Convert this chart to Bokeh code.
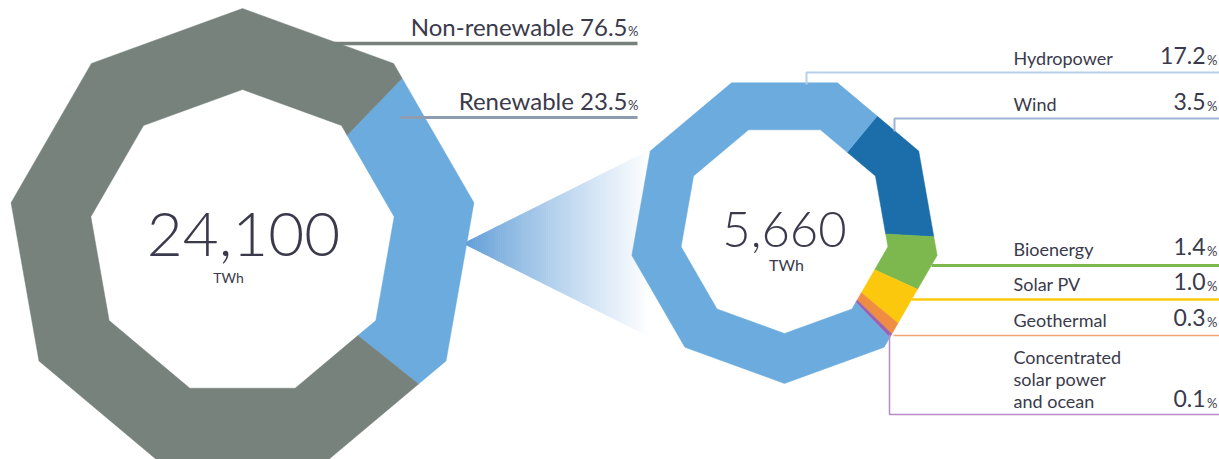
import math
from bokeh.plotting import figure
from bokeh.models import Range1d
from bokeh.core.properties import value
from bokeh.embed import file_html
from bokeh.resources import INLINE

# ---------------- data ----------------
totals = ["24,100", "5,660"]
total_unit = "TWh"

left_labels = ["Non-renewable", "Renewable"]
left_shares = [76.5, 23.5]
left_colors = ["#77827d", "#6babdd"]

right_labels = ["Hydropower", "Wind", "Bioenergy", "Solar PV", "Geothermal",
                "Concentrated\nsolar power\nand ocean"]
right_shares = [17.2, 3.5, 1.4, 1.0, 0.3, 0.1]
right_colors = ["#6babdd", "#1b6ea9", "#7db84f", "#fcc80d", "#ef8d42", "#9c62b0"]
right_line_colors = ["#b5cfec", "#9db5d3", "#7db84f", "#fcc80d", "#f3a574", "#b98ac6"]
right_line_widths = [2, 2, 3, 2.5, 1.5, 1.5]

# ---------------- layout (screen px, y down) ----------------
FONT = "Lato"
LIGHT = "Lato Light, Lato"
TXT = "#3a3a4c"
N_SIDES = 9
BASE_K = 0.38   # baseline correction factor

L_CX, L_CY, L_R, L_r, L_ROT = 242, 243, 235, 154, 90      # vertex at top
R_CX, R_CY, R_R, R_r, R_ROT = 784, 228, 155, 105, -90     # vertex at bottom
L_START = 46.0    # renewable begins here, clockwise
R_START = 50.5    # wind begins here, clockwise

p = figure(width=1219, height=459, x_range=Range1d(0, 1219), y_range=Range1d(459, 0),
           output_backend="svg", toolbar_location=None, min_border=0)
p.axis.visible = False
p.grid.visible = False
p.outline_line_color = None
p.background_fill_color = "white"
p.border_fill_color = "white"


def txt(x, y, s, size, align="left", font=FONT):
    p.text(x=[x], y=[y - BASE_K * size], text=[s], text_font=value(font),
           text_font_size="%dpx" % size, text_align=align, text_baseline="alphabetic",
           text_color=TXT)


def poly_r(phi, R, rot):
    step = 360.0 / N_SIDES
    k = math.floor((phi - rot) / step)
    mid = rot + (k + 0.5) * step
    a = R * math.cos(math.radians(step / 2))
    return a / math.cos(math.radians(phi - mid))


def ring_segment(cx, cy, R, r, rot, a0, a1):
    """clockwise from a0 down to a1 (a1 < a0), degrees"""
    step = 360.0 / N_SIDES
    angs = [a0]
    k = math.floor((a0 - rot) / step)
    v = rot + k * step
    while v > a1:
        if v < a0:
            angs.append(v)
        v -= step
    angs.append(a1)
    xs, ys = [], []
    for a in angs:
        rr = poly_r(a, R, rot)
        xs.append(cx + rr * math.cos(math.radians(a)))
        ys.append(cy - rr * math.sin(math.radians(a)))
    for a in reversed(angs):
        rr = poly_r(a, r, rot)
        xs.append(cx + rr * math.cos(math.radians(a)))
        ys.append(cy - rr * math.sin(math.radians(a)))
    return xs, ys


# ---------------- gradient wedge ----------------
tip_x = L_CX + poly_r(0, L_R, L_ROT) - 4
tip_y = L_CY
end_x = R_CX + poly_r(150, R_R, R_ROT) * math.cos(math.radians(150))
half = (end_x - tip_x) * 0.5
N = 90
gx, gy, gc = [], [], []
c0 = (0x5b, 0x9a, 0xd6)
for i in range(N):
    t0, t1 = i / N, (i + 1) / N
    x0 = tip_x + t0 * (end_x - tip_x)
    x1 = tip_x + t1 * (end_x - tip_x) + 0.6
    h0, h1 = t0 * half, min(t1 + 0.6 / (end_x - tip_x), 1) * half
    gx.append([x0, x1, x1, x0])
    gy.append([tip_y - h0, tip_y - h1, tip_y + h1, tip_y + h0])
    t = (t0 + t1) / 2
    w = min(1.0, t ** 0.85)
    col = tuple(int(round(c * (1 - w) + 255 * w)) for c in c0)
    gc.append("#%02x%02x%02x" % col)
p.patches(gx, gy, fill_color=gc, line_color=None)

# ---------------- left ring ----------------
total_l = sum(left_shares)
order = [1, 0]
a = L_START
lx, ly, lc = [], [], []
for i in order:
    span = 360.0 * left_shares[i] / total_l
    xs, ys = ring_segment(L_CX, L_CY, L_R, L_r, L_ROT, a, a - span)
    lx.append(xs); ly.append(ys); lc.append(left_colors[i])
    a -= span
p.patches(lx, ly, fill_color=lc, line_color=lc, line_width=0.5)

# ---------------- right ring ----------------
total_r = sum(right_shares)
order = [1, 2, 3, 4, 5, 0]
a = R_START
rx, ry, rc = [], [], []
for i in order:
    span = 360.0 * right_shares[i] / total_r
    xs, ys = ring_segment(R_CX, R_CY, R_R, R_r, R_ROT, a, a - span)
    rx.append(xs); ry.append(ys); rc.append(right_colors[i])
    a -= span
p.patches(rx, ry, fill_color=rc, line_color=rc, line_width=0.5)

# ---------------- centre totals ----------------
txt(L_CX + 1, 258, totals[0], 62, "center", LIGHT)
txt(L_CX - 14, 282, total_unit, 14, "center")
txt(R_CX, 248, totals[1], 49, "center", LIGHT)
txt(R_CX + 2, 270, total_unit, 16, "center")

# ---------------- left labels ----------------
L_RIGHT = 637
left_line_y = [43, 117]
left_line_x0 = [333, 400]
left_text_y = [35, 109]
left_line_cols = ["#76817c", "#8d9cae"]
for i in range(2):
    p.line([left_line_x0[i], L_RIGHT], [left_line_y[i]] * 2, line_color=left_line_cols[i],
           line_width=3.5 if i == 0 else 3)
    txt(L_RIGHT - 10, left_text_y[i], "%s %.1f" % (left_labels[i], left_shares[i]), 24, "right")
    txt(L_RIGHT + 1, left_text_y[i], "%", 13, "right")

# ---------------- right labels ----------------
R_TEXT_X = 1013
R_RIGHT = 1216
text_y = [64, 110, 255, 290, 326, 407]
line_pts = [
    ([806, 806, 1219], [84, 72, 72]),
    ([894, 894, 1219], [131, 118, 118]),
    ([931, 1219], [265, 265]),
    ([911, 1219], [299, 299]),
    ([893, 1219], [335, 335]),
    ([889, 889, 1219], [334, 414, 414]),
]
for i in range(len(right_labels)):
    xs, ys = line_pts[i]
    p.line(xs, ys, line_color=right_line_colors[i], line_width=right_line_widths[i])
    parts = right_labels[i].split("\n")
    n = len(parts)
    for j, part in enumerate(parts):
        txt(R_TEXT_X, text_y[i] - (n - 1 - j) * 22, part, 18, "left")
    txt(R_RIGHT - 11, text_y[i], "%.1f" % right_shares[i], 23, "right")
    txt(R_RIGHT + 1, text_y[i], "%", 13, "right")

open("out.html", "w").write(file_html(p, INLINE))
